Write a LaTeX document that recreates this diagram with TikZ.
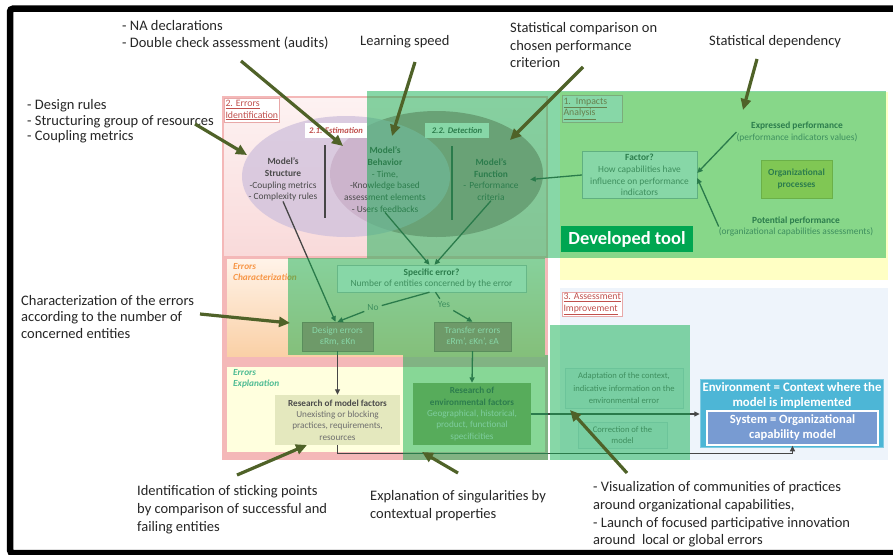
\documentclass[tikz,border=0pt]{standalone}
\usepackage{fontspec}
\setmainfont{Carlito}
\usetikzlibrary{arrows.meta,calc}
\definecolor{anntext}{HTML}{262626}
\definecolor{annarr}{HTML}{4F6228}
\definecolor{intarr}{HTML}{464646}
\definecolor{txtdark}{HTML}{4A4A4A}
\definecolor{txtgray}{HTML}{6E6E6E}
\definecolor{pinkout}{HTML}{F4B8B8}
\definecolor{pinktopA}{HTML}{FDF2F2}
\definecolor{pinktopB}{HTML}{F9DADA}
\definecolor{orgA}{HTML}{FFF3E8}
\definecolor{orgB}{HTML}{FAD0A6}
\definecolor{explY}{HTML}{FFFFDE}
\definecolor{impY}{HTML}{FFFFC4}
\definecolor{assB}{HTML}{EEF4FB}
\definecolor{lblred}{HTML}{C0504D}
\definecolor{lblborder}{HTML}{E8A8A8}
\definecolor{overlaygreen}{HTML}{10B050}
\definecolor{devgreen}{HTML}{00A651}
\definecolor{envblue}{HTML}{4DB6D6}
\definecolor{sysblue}{HTML}{789BD2}
\definecolor{ellL}{HTML}{CFC0DC}
\definecolor{ellR}{HTML}{C4949E}
\definecolor{charorange}{HTML}{F79646}
\definecolor{expteal}{HTML}{4DBB93}
\definecolor{designfill}{HTML}{CE8484}
\definecolor{resmfill}{HTML}{E4E8BE}
\definecolor{resefill}{HTML}{A0A868}
\definecolor{orgfill}{HTML}{F2E05A}
\definecolor{orgborder}{HTML}{C8B040}
\definecolor{softbox}{HTML}{E2EDF6}
\definecolor{softborder}{HTML}{C9D9E6}
\begin{document}
\begin{tikzpicture}[x=1pt,y=-1pt,
  ann/.style={font=\fontsize{14.5}{15.5}\selectfont, text=anntext, align=left, inner sep=0pt, anchor=west},
  small/.style={font=\fontsize{9.4}{11.7}\selectfont, align=center, inner sep=0pt},
  annarrow/.style={draw=annarr, line width=3.2pt, -{Triangle[length=11pt,width=10pt]}},
  intarrow/.style={draw=intarr, line width=1.3pt, -{Triangle[length=5.5pt,width=5pt]}},
  intline/.style={draw=intarr, line width=1.3pt},
  lbl/.style={draw=lblborder, fill=white, line width=0.6pt, font=\fontsize{9.8}{11.5}\selectfont, text=lblred, align=left, inner sep=1.2pt, anchor=north west},
  seclbl/.style={font=\bfseries\itshape\fontsize{9.3}{11}\selectfont, align=left, inner sep=0pt, anchor=west},
  overlay/.style={fill=overlaygreen, fill opacity=0.5},
  softbx/.style={draw=softborder, fill=softbox, small, text=txtgray, font=\fontsize{8.6}{12.5}\selectfont}
]
\useasboundingbox (0,0) rectangle (893,554);
\fill[white] (0,0) rectangle (893,554);
% frame
\draw[line width=6.5pt, rounded corners=3pt] (905,8.7) -- (10,8.7) -- (10,553) -- (905,553);

% ---------- regions ----------
\fill[pinkout] (222,96) rectangle (548,460);
\shade[top color=pinktopA, bottom color=pinktopB] (224,98) rectangle (546,255);
\shade[top color=orgA, bottom color=orgB] (227,259) rectangle (545,356);
\fill[explY] (227,367) rectangle (545,452);
\fill[impY] (560,92) rectangle (888,280);
\fill[assB] (560,288) rectangle (888,460);

% ---------- section labels ----------
\node[lbl, minimum height=24pt] (errid) at (224,98) {\underline{2. Errors}\\\underline{Identification}};
\node[lbl, text width=58pt, minimum height=27pt] (impl) at (562,95) {\underline{1. Impacts}\\\underline{Analysis}};
\node[lbl, minimum height=22pt] (assl) at (562,292) {\underline{3. Assessment}\\\underline{Improvement}};
\node[seclbl, text=charorange] (charl) at (233,272.5) {Errors\\Characterization};
\node[seclbl, text=expteal] (expl) at (233,378.5) {Errors\\Explanation};

% ---------- ellipses ----------
\fill[ellR] (436.5,174) ellipse [x radius=106.5, y radius=63];
\fill[ellL, fill opacity=0.75] (346,176.5) ellipse [x radius=104, y radius=60.5];
\draw[intline, line width=1.5pt] (325,145) -- (325,218);
\draw[intline, line width=1.5pt] (452,146) -- (452,220);
\node[fill=white, minimum width=62pt, minimum height=15pt, inner sep=0pt, font=\bfseries\itshape\fontsize{8.6}{10}\selectfont, text=lblred] (estl) at (336,130.5) {2.1. Estimation};
\node[fill=white, minimum width=64pt, minimum height=15pt, inner sep=0pt, font=\bfseries\itshape\fontsize{8.6}{10}\selectfont, text=txtdark] (detl) at (457,130.5) {2.2. Detection};

\node[small, text=txtdark] (struct) at (283,179.5) {\textbf{Model's}\\\textbf{Structure}\\-Coupling metrics\\- Complexity rules};
\node[small, text=txtdark] (beh) at (385,179.5) {\textbf{Model's}\\\textbf{Behavior}\\- Time,\\-Knowledge based\\assessment elements\\- Users feedbacks};
\node[small, text=txtdark, text width=78pt] (func) at (491,179.5) {\textbf{Model's}\\\textbf{Function}\\- Performance\\criteria};

% ---------- impacts analysis ----------
\node[draw=gray!60, fill=white, minimum width=115pt, minimum height=47pt, small, text=txtgray] (factor) at (639.5,175) {\textbf{\color{txtdark}Factor?}\\How capabilities have\\influence on performance\\indicators};
\node[small, text=txtgray] (expr) at (797,132) {\textbf{\color{txtdark}Expressed performance}\\(performance indicators values)};
\node[small, text=txtgray] (pot) at (796,226.5) {\textbf{\color{txtdark}Potential performance}\\(organizational capabilities assessments)};
\node[draw=orgborder, fill=orgfill, minimum width=71pt, minimum height=38pt, small, text=txtdark] (org) at (796.5,179) {\textbf{Organizational}\\\textbf{processes}};

% ---------- characterization / explanation ----------
\node[draw=gray!50, fill=white, minimum width=189pt, minimum height=27pt, small, text=txtgray] (spec) at (431.5,278.5) {\textbf{\color{txtdark}Specific error?}\\Number of entities concerned by the error};
\node[small, text=txtgray, inner sep=3pt] (no) at (373,308) {No};
\node[small, text=txtgray, inner sep=3pt] (yes) at (444,305) {Yes};
\node[draw=designfill!80!black, fill=designfill, minimum width=71pt, minimum height=29pt, small, text=white] (design) at (337.5,336.5) {Design errors\\εRm, εKn};
\node[draw=designfill!80!black, fill=designfill, minimum width=77pt, minimum height=29pt, small, text=white] (transfer) at (472.5,336.5) {Transfer errors\\εRm', εKn', εA};
\node[fill=resmfill, minimum width=125pt, minimum height=50pt, small, text=txtgray, font=\fontsize{9.2}{11.3}\selectfont] (resm) at (337.5,420) {\textbf{\color{txtdark}Research of model factors}\\Unexisting or blocking\\practices, requirements,\\resources};
\node[fill=resefill, minimum width=118pt, minimum height=62pt, small, text=white!85!gray, font=\fontsize{9.2}{11.3}\selectfont] (rese) at (472,414) {\textbf{\color{txtdark}Research of}\\\textbf{\color{txtdark}environmental factors}\\Geographical, historical,\\product, functional\\specificities};

% ---------- assessment improvement ----------
\node[softbx, minimum width=118pt, minimum height=40pt] (adapt) at (624,388.5) {Adaptation of the context,\\indicative information on the\\environmental error};
\node[softbx, minimum width=89pt, minimum height=26pt, font=\fontsize{8.6}{11}\selectfont] (corr) at (622.5,435) {Correction of the\\model};
\node[draw=envblue!70!white, fill=envblue, minimum width=183pt, minimum height=68pt, inner sep=0pt] (env) at (791.5,413) {};
\node[font=\bfseries\fontsize{12.8}{15}\selectfont, text=white, align=center, inner sep=0pt] (envt) at (792,396) {Environment = Context where the\\model is implemented};
\node[draw=white, line width=1.5pt, fill=sysblue, minimum width=171pt, minimum height=34pt, inner sep=0pt, font=\bfseries\fontsize{12.6}{15}\selectfont, text=white, align=center] (sys) at (792.5,428) {System = Organizational\\capability model};

% ---------- internal connectors ----------
\draw[intarrow] (struct.south) -- ([xshift=-2pt]design.north);
\draw[intarrow] (beh.south) -- ([xshift=-2pt]spec.north);
\draw[intarrow] (func.south) -- ([xshift=3pt]spec.north);
\draw[intline] ([xshift=-2pt]spec.south) -- (no);
\draw[intarrow] (no) -- (design.north);
\draw[intline] ([xshift=4pt]spec.south) -- (yes);
\draw[intarrow] (yes) -- (transfer.north);
\draw[intarrow] (design.south) -- (resm.north);
\draw[intarrow] (transfer.south) -- (rese.north);
\draw[intarrow] (rese.east) -- (rese.east -| env.west);
\draw[intarrow] (resm.south) -- ++(0,8) -| (sys.south);
\draw[intarrow] (factor.west) -- (func.east);
\draw[intarrow] (expr.west) -- ([yshift=2pt]factor.east);
\draw[intarrow] (pot.west) -- ([yshift=-3pt]factor.east);

% ---------- developed tool overlay ----------
\fill[overlay] (367,91) rectangle (886,258);
\fill[overlay] (288,258) rectangle (545,355);
\fill[overlay] (403,355) rectangle (548,460);
\fill[overlay] (550,325) rectangle (690,460);
\node[fill=devgreen, minimum width=132pt, minimum height=26pt, inner sep=0pt, text=white, font=\bfseries\fontsize{18.5}{20}\selectfont] (dev) at (627,239) {Developed tool};

% ---------- annotations ----------
\node[ann] (dr) at (27,121.5) {- Design rules\\- Structuring group of resources\\- Coupling metrics};
\node[ann, font=\fontsize{14.5}{16.5}\selectfont] (na) at (122,35) {- NA declarations\\- Double check assessment (audits)};
\node[ann] (ls) at (360,42) {Learning speed};
\node[ann, font=\fontsize{14.5}{17.5}\selectfont] (sc) at (510,45.5) {Statistical comparison on\\chosen performance\\criterion};
\node[ann] (sd) at (709,42) {Statistical dependency};
\node[ann, font=\fontsize{14.5}{16.5}\selectfont] (ch) at (21,317) {Characterization of the errors\\according to the number of\\concerned entities};
\node[ann, font=\fontsize{14.5}{18}\selectfont] (idf) at (137,510) {Identification of sticking points\\by comparison of successful and\\failing entities};
\node[ann, font=\fontsize{14.5}{18}\selectfont] (exs) at (370,506) {Explanation of singularities by\\contextual properties};
\node[ann, font=\fontsize{14.5}{17.7}\selectfont] (vis) at (593,514.5) {- Visualization of communities of practices\\around organizational capabilities,\\- Launch of focused participative innovation\\around~ local or global errors};

\coordinate (a1s) at (195,124); \coordinate (a1e) at (247,155);
\coordinate (a2s) at (241,61);  \coordinate (a2e) at (343,146);
\coordinate (a3s) at (415,62);  \coordinate (a3e) at (392,136);
\coordinate (a4s) at (583,67);  \coordinate (a4e) at (510,140);
\coordinate (a5s) at (757,59);  \coordinate (a5e) at (743,110);
\coordinate (a6s) at (200,314); \coordinate (a6e) at (290,323);
\coordinate (a7s) at (237,475); \coordinate (a7e) at (307,445);
\coordinate (a8s) at (458,473); \coordinate (a8e) at (422,452);
\coordinate (a9s) at (627,473); \coordinate (a9e) at (570,410);
\foreach \i in {1,...,9} {\draw[annarrow] (a\i s) -- (a\i e);}
\end{tikzpicture}
\end{document}
